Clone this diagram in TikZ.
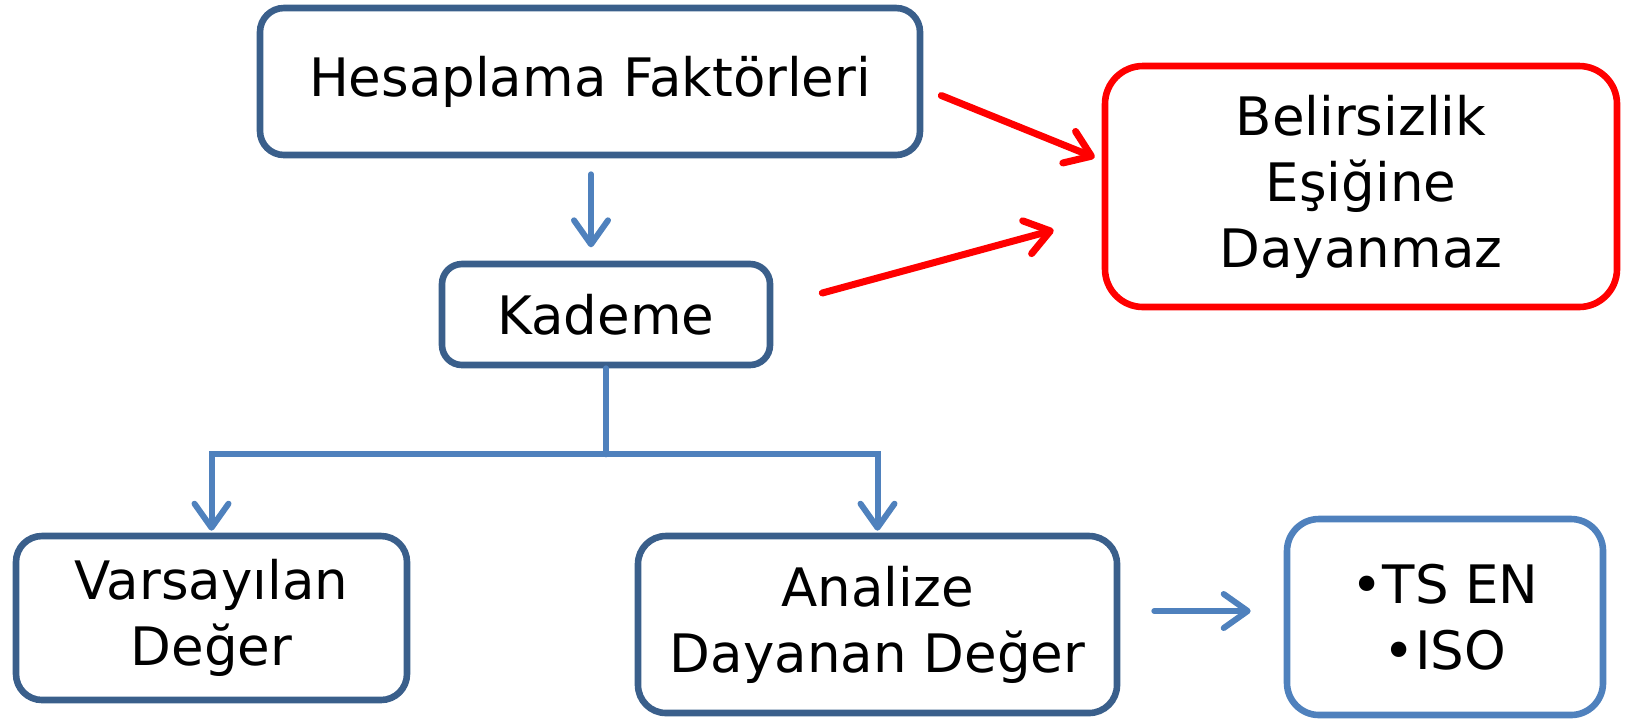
\documentclass[tikz,border=0pt]{standalone}
\usepackage{fontspec}
\setmainfont{DejaVu Sans}
\usetikzlibrary{arrows.meta,calc,positioning}
\definecolor{boxblue}{HTML}{3A5F8B}
\definecolor{lineblue}{HTML}{4F81BD}
\definecolor{alertred}{HTML}{FF0000}

\begin{document}
\begin{tikzpicture}[x=0.5pt,y=-0.5pt,
    box/.style={draw=boxblue, line width=3.3pt, rounded corners=12pt, align=center,
        inner sep=0pt, font=\fontsize{26.5}{33}\selectfont},
    redbox/.style={box, draw=alertred, rounded corners=19pt},
    lightbox/.style={box, draw=lineblue, rounded corners=16pt},
    conn/.style={draw=lineblue, line width=3pt, line cap=round,
        -{Straight Barb[length=12pt,width=17pt,round]}},
    redconn/.style={conn, draw=alertred, line width=3.5pt}]

    \useasboundingbox (0,0) rectangle (1626,720);

    % Upper boxes
    \node [box, minimum width=330pt, minimum height=73.5pt] (hesap) at (590,81.5) {Hesaplama Faktörleri};
    \node [box, minimum width=164pt, minimum height=50.5pt, rounded corners=10pt] (kademe) at (606,314.5) {Kademe};
    \node [redbox, minimum width=256pt, minimum height=120.5pt] (belirsiz) at (1361,186.5) {Belirsizlik\\Eşiğine\\Dayanmaz};

    % Lower boxes
    \node [box, minimum width=195.5pt, minimum height=82pt, rounded corners=13pt] (varsay) at (211.5,618) {Varsayılan\\Değer};
    \node [box, minimum width=239.5pt, minimum height=88.5pt, rounded corners=14pt] (analiz) at (877.5,624.5) {Analize\\Dayanan Değer};
    \node [lightbox, minimum width=158pt, minimum height=98pt] (tsen) at (1445,617) {•TS EN\\•ISO};

    % Connectors
    \draw [conn] ($(hesap.south)+(1,16)$) -- ($(hesap.south)+(1,89)$);
    \draw [conn, -] (kademe.south) -- ++(0,86) coordinate (fork);
    \draw [conn] (fork) -| ([yshift=1pt]varsay.north);
    \draw [conn] (fork) -| ([yshift=1pt]analiz.north);
    \draw [conn] ($(analiz.east)+(34,-13.5)$) -- ($(tsen.west)+(-33,-6)$);

    % Red connectors
    \draw [redconn] ($(hesap.east)+(18,14)$) -- ($(belirsiz.west)+(-7,-29)$);
    \draw [redconn] ($(kademe.east)+(49,-21.5)$) -- ($(belirsiz.west)+(-48,43.5)$);
\end{tikzpicture}
\end{document}
